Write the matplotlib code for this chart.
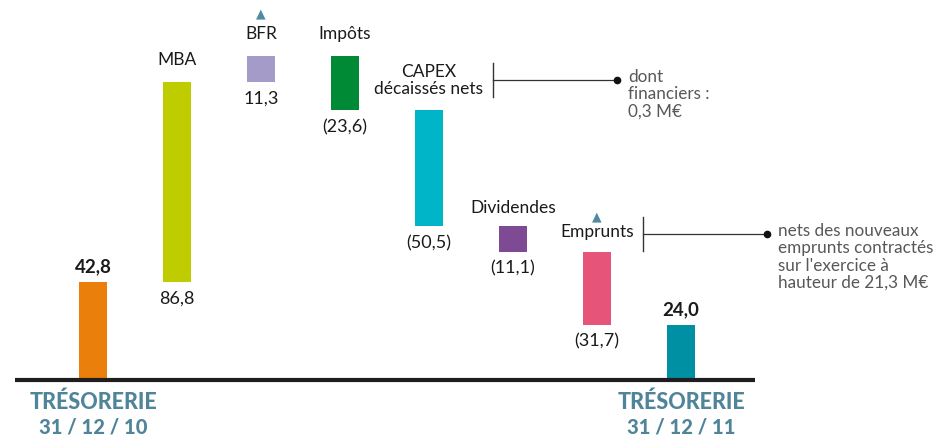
import matplotlib.pyplot as plt

categories = ["TRÉSORERIE\n31 / 12 / 10", "MBA", "BFR", "Impôts", "CAPEX\ndécaissés nets",
              "Dividendes", "Emprunts", "TRÉSORERIE\n31 / 12 / 11"]
values = [42.8, 86.8, 11.3, -23.6, -50.5, -11.1, -31.7, 24.0]
value_labels = ["42,8", "86,8", "11,3", "(23,6)", "(50,5)", "(11,1)", "(31,7)", "24,0"]
colors = ["#EA7F0B", "#BFCC00", "#A59BC8", "#008A36", "#00B5C8", "#7E4A94", "#E6547A", "#0090A3"]
notes = ["dont\nfinanciers :\n0,3 M€",
         "nets des nouveaux\nemprunts contractés\nsur l'exercice à\nhauteur de 21,3 M€"]

plt.rcParams['font.family'] = ['Lato', 'DejaVu Sans']

W, H = 933, 436
fig = plt.figure(figsize=(W / 100, H / 100), dpi=100)
ax = fig.add_axes([0, 0, 1, 1])
# 84 px per category, 2.3 px per unit
x0, step, base, scale = 93, 84, 380, 2.3
ax.set_xlim(-x0 / step, (W - x0) / step)
ax.set_ylim(-(H - base) / scale, base / scale)
ax.axis("off")

# waterfall bottoms
bottoms, heights = [], []
run = 0
for i, v in enumerate(values):
    if i == 0 or i == len(values) - 1:
        bottoms.append(0)
        heights.append(v)
        run = v
    else:
        if v >= 0:
            bottoms.append(run)
        else:
            bottoms.append(run + v)
        heights.append(abs(v))
        run += v

xs = list(range(len(values)))
ax.bar(xs, heights, bottom=bottoms, width=28 / step, color=colors, zorder=2)
ax.plot([-78 / step, 7.88], [0, 0], color="#1e1e1e", lw=3, solid_capstyle="butt", zorder=3)

txt = "#1a1a1a"
for i in xs:
    top = bottoms[i] + heights[i]
    bot = bottoms[i]
    if i in (0, len(values) - 1):
        ax.annotate(value_labels[i], (i, top), xytext=(0, 10.5), textcoords="offset points",
                    ha="center", va="center", fontsize=13.5, fontweight="bold", color=txt)
        ax.text(i, -(402 - base) / scale, categories[i].split("\n")[0], ha="center", va="center",
                fontsize=15.5, fontweight="black", color="#4F8499")
        ax.text(i, -(427 - base) / scale, categories[i].split("\n")[1], ha="center", va="center",
                fontsize=14.5, fontweight="black", color="#4F8499")
        continue
    ax.annotate(value_labels[i], (i, bot), xytext=(0, -12), textcoords="offset points",
                ha="center", va="center", fontsize=13, color=txt)
    dy = {1: 15.5, 2: 16, 3: 16, 4: 21.5, 5: 13, 6: 14}[i]
    ax.annotate(categories[i], (i, top), xytext=(0, dy), textcoords="offset points",
                ha="center", va="center", fontsize=12.5, color=txt, linespacing=1.1)

# arrows above BFR and Emprunts
for i, dy in ((2, 30), (6, 25.5)):
    top = bottoms[i] + heights[i]
    ax.annotate("▲", (i, top), xytext=(0, dy), textcoords="offset points", ha="center",
                va="center", fontsize=9, color="#4F8AA0", family="DejaVu Sans")

# note brackets
for i, (xv, xe, yc, note) in enumerate(((493, 617, 80, notes[0]), (643, 767, 234, notes[1]))):
    xa = (xv - x0) / step
    xb = (xe - x0) / step
    y = (base - yc) / scale
    h = 17 / scale
    ax.plot([xa, xa], [y - h, y + h], color="#333333", lw=1)
    ax.plot([xa, xb], [y, y], color="#333333", lw=0.9)
    ax.plot([xb], [y], "o", color="#111111", ms=4.5)
    ax.text(xb + 11 / step, y + 11 / scale, note, ha="left", va="top", fontsize=12.3,
            color="#585858", linespacing=1.1)

plt.savefig("out.png", dpi=100)
